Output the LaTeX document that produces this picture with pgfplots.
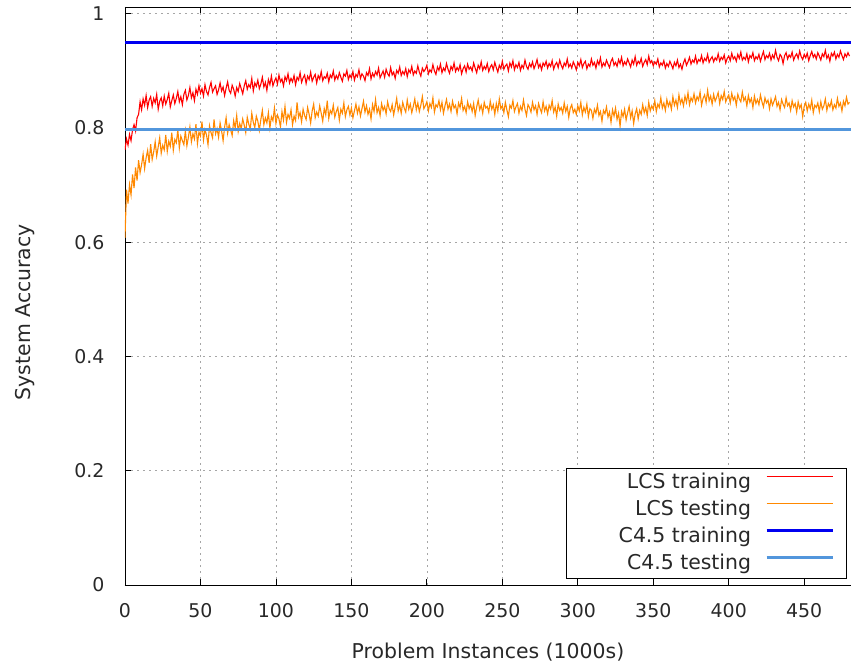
\documentclass[border=0pt]{standalone}
\usepackage{fontspec}
\setmainfont{DejaVu Sans}
\usepackage{pgfplots}
\pgfplotsset{compat=1.18}
\definecolor{lcstrain}{RGB}{255,0,0}
\definecolor{lcstest}{RGB}{255,136,0}
\definecolor{ctrain}{RGB}{0,0,240}
\definecolor{ctest}{RGB}{82,150,220}
\definecolor{txt}{RGB}{40,40,40}
\newcommand{\lbl}{\fontsize{20.5}{24}\selectfont}

\begin{document}
\begin{tikzpicture}
\begin{axis}[
  name=ax,
  scale only axis,
  width=726bp, height=578bp,
  xmin=0, xmax=481, ymin=0, ymax=1.012,
  axis x line*=box, axis y line*=left,
  xtick={0,50,...,450},
  ytick={0,0.2,0.4,0.6,0.8,1},
  tick align=inside,
  major tick length=6bp,
  tick style={black, line width=0.8bp},
  axis line style={black, line width=0.9bp},
  grid=major,
  grid style={gray!70, line width=0.7bp, dash pattern=on 2bp off 4bp},
  /pgf/number format/assume math mode=true,
  ticklabel style={font=\fontsize{19}{22}\selectfont, text=txt},
  xticklabel style={yshift=-15bp},
  yticklabel style={xshift=-17bp},
  xlabel={Problem Instances (1000s)},
  ylabel={System Accuracy},
  every axis x label/.style={at={(axis description cs:0.5,-0.116)}, anchor=center, font=\lbl, text=txt},
  every axis y label/.style={at={(axis description cs:-0.1377,0.472)}, anchor=center, rotate=90, font=\lbl, text=txt},
  legend plot pos=right,
  legend cell align=right,
  legend style={at={(1,0)}, anchor=south east, xshift=-4.5bp, yshift=6bp,
    draw=black, line width=0.8bp, fill=white, inner xsep=0pt, inner ysep=5.5bp,
    row sep=9bp, font=\lbl,
    nodes={inner xsep=0pt, inner ysep=0pt, text height=14bp, text depth=4bp, text=txt}},
  legend image code/.code={\path (0bp,0bp) (92bp,0bp); \draw[#1] (14bp,7bp) -- (80bp,7bp);},
]
\addplot[lcstrain, line width=1.1bp] coordinates {
(0,0.762) (1,0.781) (2,0.770) (3,0.789) (4,0.778) (5,0.797) (6,0.806) (7,0.795) (8,0.818) (9,0.824)
(10,0.846) (11,0.832) (12,0.851) (13,0.840) (14,0.857) (15,0.836) (16,0.849) (17,0.855) (18,0.838) (19,0.852)
(20,0.844) (21,0.859) (22,0.833) (23,0.847) (24,0.853) (25,0.839) (26,0.856) (27,0.842) (28,0.850) (29,0.861)
(30,0.837) (31,0.848) (32,0.858) (33,0.843) (34,0.852) (35,0.864) (36,0.846) (37,0.855) (38,0.841) (39,0.859)
(40,0.866) (41,0.849) (42,0.857) (43,0.871) (44,0.853) (45,0.862) (46,0.848) (47,0.868) (48,0.859) (49,0.874)
(50,0.861) (51,0.869) (52,0.856) (53,0.876) (54,0.864) (55,0.858) (56,0.871) (57,0.880) (58,0.863) (59,0.869)
(60,0.874) (61,0.859) (62,0.867) (63,0.879) (64,0.865) (65,0.872) (66,0.857) (67,0.870) (68,0.881) (69,0.866)
(70,0.861) (71,0.875) (72,0.868) (73,0.856) (74,0.871) (75,0.864) (76,0.878) (77,0.869) (78,0.860) (79,0.874)
(80,0.883) (81,0.868) (82,0.876) (83,0.871) (84,0.887) (85,0.865) (86,0.879) (87,0.873) (88,0.884) (89,0.869)
(90,0.877) (91,0.889) (92,0.872) (93,0.880) (94,0.866) (95,0.885) (96,0.876) (97,0.891) (98,0.874) (99,0.882)
(100,0.888) (101,0.877) (102,0.893) (103,0.881) (104,0.886) (105,0.874) (106,0.890) (107,0.883) (108,0.895) (109,0.879)
(110,0.887) (111,0.881) (112,0.892) (113,0.876) (114,0.889) (115,0.884) (116,0.897) (117,0.880) (118,0.888) (119,0.893)
(120,0.878) (121,0.891) (122,0.885) (123,0.898) (124,0.882) (125,0.889) (126,0.894) (127,0.879) (128,0.892) (129,0.886)
(130,0.899) (131,0.883) (132,0.890) (133,0.887) (134,0.896) (135,0.881) (136,0.893) (137,0.888) (138,0.900) (139,0.884)
(140,0.892) (141,0.886) (142,0.897) (143,0.889) (144,0.882) (145,0.895) (146,0.891) (147,0.901) (148,0.885) (149,0.893)
(150,0.888) (151,0.899) (152,0.884) (153,0.894) (154,0.890) (155,0.902) (156,0.887) (157,0.895) (158,0.891) (159,0.883)
(160,0.897) (161,0.892) (162,0.904) (163,0.886) (164,0.896) (165,0.890) (166,0.899) (167,0.893) (168,0.905) (169,0.888)
(170,0.894) (171,0.900) (172,0.889) (173,0.903) (174,0.895) (175,0.891) (176,0.906) (177,0.893) (178,0.898) (179,0.887)
(180,0.901) (181,0.896) (182,0.907) (183,0.892) (184,0.899) (185,0.894) (186,0.904) (187,0.890) (188,0.902) (189,0.897)
(190,0.908) (191,0.893) (192,0.900) (193,0.896) (194,0.909) (195,0.898) (196,0.891) (197,0.905) (198,0.899) (199,0.903)
(200,0.910) (201,0.895) (202,0.902) (203,0.898) (204,0.911) (205,0.900) (206,0.894) (207,0.907) (208,0.901) (209,0.912)
(210,0.897) (211,0.905) (212,0.900) (213,0.913) (214,0.903) (215,0.896) (216,0.908) (217,0.902) (218,0.914) (219,0.899)
(220,0.906) (221,0.901) (222,0.911) (223,0.895) (224,0.904) (225,0.909) (226,0.898) (227,0.912) (228,0.903) (229,0.907)
(230,0.900) (231,0.914) (232,0.905) (233,0.897) (234,0.910) (235,0.904) (236,0.916) (237,0.901) (238,0.908) (239,0.903)
(240,0.913) (241,0.899) (242,0.907) (243,0.911) (244,0.902) (245,0.915) (246,0.906) (247,0.898) (248,0.910) (249,0.904)
(250,0.917) (251,0.903) (252,0.909) (253,0.912) (254,0.900) (255,0.914) (256,0.907) (257,0.918) (258,0.902) (259,0.911)
(260,0.906) (261,0.915) (262,0.901) (263,0.910) (264,0.905) (265,0.919) (266,0.908) (267,0.903) (268,0.913) (269,0.907)
(270,0.916) (271,0.904) (272,0.911) (273,0.920) (274,0.906) (275,0.912) (276,0.902) (277,0.914) (278,0.909) (279,0.917)
(280,0.905) (281,0.913) (282,0.908) (283,0.918) (284,0.903) (285,0.911) (286,0.915) (287,0.906) (288,0.919) (289,0.910)
(290,0.904) (291,0.914) (292,0.909) (293,0.921) (294,0.907) (295,0.912) (296,0.905) (297,0.916) (298,0.910) (299,0.902)
(300,0.915) (301,0.909) (302,0.920) (303,0.906) (304,0.913) (305,0.917) (306,0.904) (307,0.912) (308,0.908) (309,0.921)
(310,0.910) (311,0.915) (312,0.905) (313,0.918) (314,0.911) (315,0.923) (316,0.907) (317,0.914) (318,0.909) (319,0.919)
(320,0.912) (321,0.906) (322,0.917) (323,0.922) (324,0.910) (325,0.915) (326,0.908) (327,0.920) (328,0.913) (329,0.924)
(330,0.909) (331,0.916) (332,0.911) (333,0.921) (334,0.914) (335,0.907) (336,0.919) (337,0.912) (338,0.925) (339,0.910)
(340,0.917) (341,0.913) (342,0.922) (343,0.908) (344,0.915) (345,0.920) (346,0.911) (347,0.926) (348,0.914) (349,0.918)
(350,0.909) (351,0.916) (352,0.912) (353,0.921) (354,0.907) (355,0.914) (356,0.910) (357,0.918) (358,0.905) (359,0.913)
(360,0.908) (361,0.917) (362,0.911) (363,0.904) (364,0.915) (365,0.909) (366,0.919) (367,0.906) (368,0.912) (369,0.903)
(370,0.914) (371,0.921) (372,0.910) (373,0.916) (374,0.924) (375,0.912) (376,0.919) (377,0.915) (378,0.926) (379,0.913)
(380,0.920) (381,0.917) (382,0.927) (383,0.914) (384,0.922) (385,0.918) (386,0.929) (387,0.915) (388,0.921) (389,0.925)
(390,0.916) (391,0.923) (392,0.919) (393,0.930) (394,0.917) (395,0.924) (396,0.920) (397,0.928) (398,0.914) (399,0.922)
(400,0.926) (401,0.918) (402,0.931) (403,0.921) (404,0.925) (405,0.917) (406,0.929) (407,0.922) (408,0.933) (409,0.919)
(410,0.924) (411,0.920) (412,0.930) (413,0.916) (414,0.927) (415,0.923) (416,0.932) (417,0.918) (418,0.925) (419,0.921)
(420,0.929) (421,0.917) (422,0.926) (423,0.934) (424,0.920) (425,0.927) (426,0.923) (427,0.931) (428,0.919) (429,0.928)
(430,0.922) (431,0.936) (432,0.924) (433,0.918) (434,0.929) (435,0.925) (436,0.913) (437,0.927) (438,0.932) (439,0.921)
(440,0.928) (441,0.924) (442,0.933) (443,0.919) (444,0.926) (445,0.930) (446,0.922) (447,0.935) (448,0.925) (449,0.920)
(450,0.929) (451,0.923) (452,0.931) (453,0.918) (454,0.927) (455,0.934) (456,0.924) (457,0.929) (458,0.921) (459,0.932)
(460,0.926) (461,0.919) (462,0.930) (463,0.925) (464,0.936) (465,0.922) (466,0.928) (467,0.917) (468,0.931) (469,0.926)
(470,0.933) (471,0.921) (472,0.929) (473,0.924) (474,0.935) (475,0.927) (476,0.920) (477,0.930) (478,0.925) (479,0.932)
(480,0.926)
};
\addlegendentry{\makebox[185bp][r]{LCS training}}
\addplot[lcstest, line width=1.1bp] coordinates {
(0,0.608) (1,0.692) (2,0.668) (3,0.701) (4,0.683) (5,0.719) (6,0.695) (7,0.731) (8,0.708) (9,0.744)
(10,0.722) (11,0.736) (12,0.754) (13,0.729) (14,0.748) (15,0.761) (16,0.739) (17,0.772) (18,0.745) (19,0.758)
(20,0.776) (21,0.751) (22,0.767) (23,0.783) (24,0.756) (25,0.770) (26,0.762) (27,0.788) (28,0.759) (29,0.777)
(30,0.768) (31,0.792) (32,0.761) (33,0.780) (34,0.774) (35,0.797) (36,0.765) (37,0.786) (38,0.778) (39,0.771)
(40,0.795) (41,0.769) (42,0.784) (43,0.802) (44,0.776) (45,0.790) (46,0.781) (47,0.807) (48,0.773) (49,0.793)
(50,0.786) (51,0.811) (52,0.779) (53,0.797) (54,0.788) (55,0.771) (56,0.804) (57,0.792) (58,0.783) (59,0.815)
(60,0.790) (61,0.799) (62,0.784) (63,0.809) (64,0.795) (65,0.778) (66,0.802) (67,0.818) (68,0.791) (69,0.806)
(70,0.797) (71,0.787) (72,0.813) (73,0.800) (74,0.822) (75,0.794) (76,0.808) (77,0.799) (78,0.816) (79,0.805)
(80,0.792) (81,0.819) (82,0.807) (83,0.798) (84,0.826) (85,0.810) (86,0.801) (87,0.821) (88,0.812) (89,0.796)
(90,0.815) (91,0.831) (92,0.806) (93,0.818) (94,0.809) (95,0.827) (96,0.800) (97,0.820) (98,0.813) (99,0.835)
(100,0.808) (101,0.823) (102,0.816) (103,0.802) (104,0.829) (105,0.814) (106,0.838) (107,0.810) (108,0.824) (109,0.817)
(110,0.832) (111,0.806) (112,0.821) (113,0.813) (114,0.845) (115,0.819) (116,0.827) (117,0.811) (118,0.833) (119,0.822)
(120,0.815) (121,0.836) (122,0.824) (123,0.809) (124,0.830) (125,0.842) (126,0.818) (127,0.828) (128,0.821) (129,0.839)
(130,0.826) (131,0.812) (132,0.834) (133,0.823) (134,0.848) (135,0.817) (136,0.831) (137,0.825) (138,0.840) (139,0.819)
(140,0.829) (141,0.836) (142,0.814) (143,0.833) (144,0.826) (145,0.844) (146,0.820) (147,0.832) (148,0.838) (149,0.823)
(150,0.835) (151,0.818) (152,0.830) (153,0.842) (154,0.826) (155,0.837) (156,0.821) (157,0.834) (158,0.847) (159,0.828)
(160,0.839) (161,0.824) (162,0.833) (163,0.816) (164,0.841) (165,0.829) (166,0.850) (167,0.827) (168,0.836) (169,0.822)
(170,0.843) (171,0.831) (172,0.838) (173,0.825) (174,0.846) (175,0.834) (176,0.829) (177,0.841) (178,0.823) (179,0.837)
(180,0.852) (181,0.830) (182,0.840) (183,0.826) (184,0.845) (185,0.835) (186,0.828) (187,0.849) (188,0.833) (189,0.842)
(190,0.827) (191,0.838) (192,0.851) (193,0.832) (194,0.844) (195,0.829) (196,0.840) (197,0.855) (198,0.834) (199,0.839)
(200,0.846) (201,0.830) (202,0.843) (203,0.836) (204,0.853) (205,0.828) (206,0.841) (207,0.837) (208,0.848) (209,0.832)
(210,0.845) (211,0.826) (212,0.839) (213,0.850) (214,0.833) (215,0.842) (216,0.829) (217,0.847) (218,0.835) (219,0.840)
(220,0.825) (221,0.844) (222,0.836) (223,0.852) (224,0.831) (225,0.838) (226,0.827) (227,0.846) (228,0.834) (229,0.841)
(230,0.829) (231,0.843) (232,0.822) (233,0.837) (234,0.849) (235,0.832) (236,0.840) (237,0.826) (238,0.845) (239,0.835)
(240,0.838) (241,0.828) (242,0.847) (243,0.833) (244,0.841) (245,0.824) (246,0.843) (247,0.830) (248,0.851) (249,0.834)
(250,0.839) (251,0.827) (252,0.845) (253,0.832) (254,0.820) (255,0.840) (256,0.835) (257,0.848) (258,0.829) (259,0.837)
(260,0.843) (261,0.826) (262,0.838) (263,0.831) (264,0.849) (265,0.833) (266,0.822) (267,0.841) (268,0.836) (269,0.828)
(270,0.845) (271,0.832) (272,0.839) (273,0.824) (274,0.843) (275,0.834) (276,0.827) (277,0.846) (278,0.830) (279,0.838)
(280,0.825) (281,0.840) (282,0.833) (283,0.848) (284,0.828) (285,0.837) (286,0.821) (287,0.842) (288,0.831) (289,0.836)
(290,0.826) (291,0.844) (292,0.829) (293,0.838) (294,0.819) (295,0.835) (296,0.841) (297,0.827) (298,0.833) (299,0.824)
(300,0.839) (301,0.830) (302,0.845) (303,0.823) (304,0.836) (305,0.828) (306,0.842) (307,0.820) (308,0.834) (309,0.831)
(310,0.817) (311,0.833) (312,0.826) (313,0.840) (314,0.822) (315,0.829) (316,0.812) (317,0.831) (318,0.825) (319,0.837)
(320,0.819) (321,0.828) (322,0.810) (323,0.832) (324,0.821) (325,0.835) (326,0.815) (327,0.826) (328,0.803) (329,0.829)
(330,0.820) (331,0.833) (332,0.814) (333,0.827) (334,0.838) (335,0.818) (336,0.830) (337,0.808) (338,0.825) (339,0.834)
(340,0.816) (341,0.831) (342,0.824) (343,0.841) (344,0.827) (345,0.836) (346,0.822) (347,0.845) (348,0.830) (349,0.839)
(350,0.833) (351,0.848) (352,0.829) (353,0.842) (354,0.836) (355,0.853) (356,0.835) (357,0.844) (358,0.831) (359,0.850)
(360,0.838) (361,0.846) (362,0.833) (363,0.855) (364,0.840) (365,0.849) (366,0.836) (367,0.858) (368,0.843) (369,0.851)
(370,0.839) (371,0.856) (372,0.845) (373,0.862) (374,0.841) (375,0.853) (376,0.847) (377,0.860) (378,0.844) (379,0.855)
(380,0.849) (381,0.863) (382,0.840) (383,0.852) (384,0.858) (385,0.845) (386,0.866) (387,0.848) (388,0.856) (389,0.842)
(390,0.859) (391,0.847) (392,0.854) (393,0.862) (394,0.843) (395,0.857) (396,0.850) (397,0.864) (398,0.846) (399,0.853)
(400,0.858) (401,0.844) (402,0.861) (403,0.849) (404,0.855) (405,0.840) (406,0.859) (407,0.851) (408,0.846) (409,0.863)
(410,0.848) (411,0.854) (412,0.839) (413,0.857) (414,0.845) (415,0.852) (416,0.836) (417,0.856) (418,0.843) (419,0.850)
(420,0.841) (421,0.858) (422,0.846) (423,0.837) (424,0.853) (425,0.844) (426,0.849) (427,0.834) (428,0.851) (429,0.840)
(430,0.847) (431,0.855) (432,0.838) (433,0.845) (434,0.832) (435,0.850) (436,0.842) (437,0.836) (438,0.853) (439,0.839)
(440,0.844) (441,0.831) (442,0.848) (443,0.837) (444,0.843) (445,0.828) (446,0.846) (447,0.835) (448,0.841) (449,0.820)
(450,0.838) (451,0.845) (452,0.830) (453,0.842) (454,0.834) (455,0.849) (456,0.827) (457,0.840) (458,0.836) (459,0.844)
(460,0.829) (461,0.846) (462,0.833) (463,0.839) (464,0.851) (465,0.831) (466,0.843) (467,0.837) (468,0.848) (469,0.832)
(470,0.841) (471,0.835) (472,0.852) (473,0.838) (474,0.844) (475,0.830) (476,0.847) (477,0.839) (478,0.854) (479,0.842)
(480,0.845)
};
\addlegendentry{\makebox[185bp][r]{LCS testing}}
\addplot[ctrain, line width=3bp] coordinates {(0,0.949) (481,0.949)};
\addlegendentry{\makebox[185bp][r]{C4.5 training}}
\addplot[ctest, line width=3bp] coordinates {(0,0.798) (481,0.798)};
\addlegendentry{\makebox[185bp][r]{C4.5 testing}}
\end{axis}
\pgfresetboundingbox
\useasboundingbox ([xshift=-125bp,yshift=-82bp]ax.south west) rectangle ([yshift=7bp]ax.north east);
\end{tikzpicture}
\end{document}
